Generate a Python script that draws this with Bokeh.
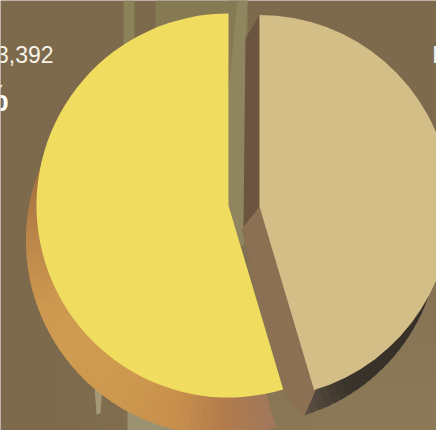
import math
from bokeh.plotting import figure
from bokeh.models import Range1d
from bokeh.core.properties import value
from bokeh.embed import file_html
from bokeh.resources import INLINE

# Shares
categories = ["Yellow share", "Tan share"]
shares = [54.6, 45.4]
colors = ["#f0dc5f", "#d3be88"]

W, H = 436, 430
def Y(v):
    return H - v

def lerp(anchors, t):
    t = max(0, min(1, t)) * (len(anchors) - 1)
    i = min(int(t), len(anchors) - 2)
    f = t - i
    a, b = anchors[i], anchors[i + 1]
    rgb = [round(int(a[k:k+2], 16) * (1 - f) + int(b[k:k+2], 16) * f) for k in (1, 3, 5)]
    return "#%02x%02x%02x" % tuple(rgb)

p = figure(width=W, height=H, output_backend="svg", toolbar_location=None,
           x_range=Range1d(0, W), y_range=Range1d(0, H), min_border=0,
           background_fill_color="#7d6a4c", border_fill_color="#7d6a4c")
p.axis.visible = False
p.grid.visible = False
p.outline_line_color = None
p.styles = {"position": "absolute", "left": "0px", "top": "0px"}

# Background lightens softly toward the lower right
steps = 14
for i in range(steps):
    t = i / (steps - 1)
    c = lerp(["#7e6b4d", "#8c7958"], t)
    p.quad(left=60 + 270 * t, right=W, top=Y(150 + 250 * t), bottom=0, color=c, line_color=None)

# Pale vertical bands behind the pie
p.quad(left=[123, 155, 228], right=[134, 247, 247], top=Y(0), bottom=[Y(60), Y(60), Y(245)],
       color=["#8c8259", "#857a53", "#857a53"], line_color=None)
p.patch(x=[237, 247, 245, 243, 228, 228], y=[Y(0), Y(0), Y(40), Y(245), Y(245), Y(90)], color="#8f8660", line_color=None)
p.patch(x=[94, 102, 100, 96], y=[Y(385), Y(385), Y(413), Y(414)], color="#a39a75", line_color=None)
p.patch(x=[127, 140, 175, 175, 127], y=[Y(405), Y(405), Y(420), Y(430), Y(430)], color="#9a9270", line_color=None)

a0 = math.pi / 2
yellow_end = a0 + 2 * math.pi * shares[0] / 100
tan_end = yellow_end + 2 * math.pi * shares[1] / 100

# Orange side wall of the yellow slice (smooth shading)
cx_o, cy_o, r_o = 220, 240, 194.5
wall_anchor = ["#9c6c3d", "#b07c46", "#c08b4b", "#cc974f", "#cf9b51", "#cf9a50", "#cc964e", "#c68e4c", "#b27b4c", "#a2785a"]
n = 70
wall_start = math.radians(155)
for i in range(n):
    s = wall_start + (yellow_end - wall_start) * i / n
    e = wall_start + (yellow_end - wall_start) * (i + 1.5) / n
    e = min(e, yellow_end)
    p.wedge(x=cx_o, y=Y(cy_o), radius=r_o, start_angle=s, end_angle=e, color=lerp(wall_anchor, i / (n - 1)), line_color=None)

# Side walls of the tan slice
m = 24
dark_anchor = ["#5d4f43", "#3b342b", "#38312a", "#38312a", "#38312a"]
dark_end = yellow_end + math.radians(60)
for i in range(m):
    s = yellow_end + (dark_end - yellow_end) * i / m
    e = yellow_end + (dark_end - yellow_end) * (i + 1.5) / m
    p.wedge(x=248, y=Y(232), radius=191, start_angle=s, end_angle=e, color=lerp(dark_anchor, i / (m - 1)), line_color=None)
p.patch(x=[259, 245, 243, 259], y=[Y(14), Y(38), Y(229), Y(206)], color="#6c5540", line_color=None)
p.patch(x=[259, 316, 303, 302, 241], y=[Y(206), Y(388), Y(417), Y(418), Y(229)], color="#8b7053", line_color=None)
# Gap beside the yellow slice, same tone as the cut wall
p.patch(x=[245, 284, 302, 270], y=[Y(248), Y(392), Y(416), Y(300)], color="#8b7053", line_color=None)

# Top faces
p.wedge(x=228, y=Y(205), radius=192, start_angle=a0, end_angle=yellow_end, color=colors[0], line_color=None)
p.wedge(x=259, y=Y(206), radius=191.5, start_angle=yellow_end, end_angle=tan_end, color=colors[1], line_color=None)

# Labels, cut by the picture edge as in the reference
p.text(x=[53], y=[Y(54)], text=["3,392"], text_font=value("Liberation Sans"), text_font_size="23px",
       text_color="#f6f3e8", text_align="right", text_baseline="alphabetic")
p.text(x=[8], y=[Y(98)], text=["%"], text_font=value("Liberation Sans"), text_font_size="36px",
       text_font_style="bold", text_color="#ffffff", text_align="right", text_baseline="alphabetic")
p.text(x=[431.5], y=[Y(54)], text=["I"], text_font=value("Liberation Sans"), text_font_size="23px",
       text_color="#f6f3e8", text_align="left", text_baseline="alphabetic")

open("out.html", "w").write(file_html(p, INLINE))
